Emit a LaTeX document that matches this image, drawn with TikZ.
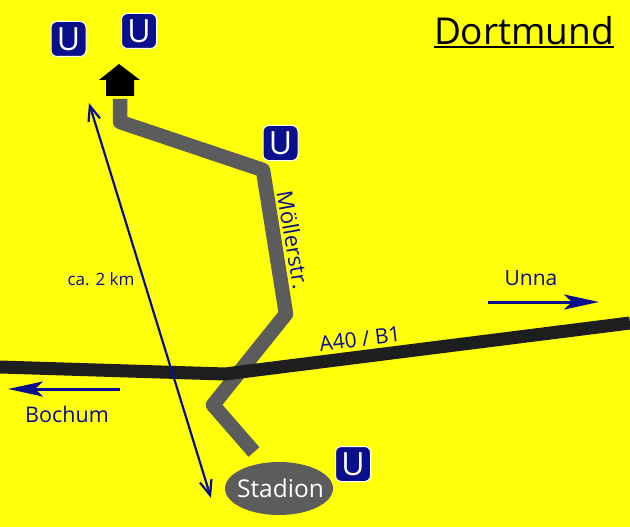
\documentclass[tikz,border=0pt]{standalone}
\usepackage{fontspec}
\setmainfont{Open Sans}
\usetikzlibrary{arrows.meta,shapes.geometric}
\definecolor{mapyellow}{RGB}{255,255,10}
\definecolor{mapblue}{RGB}{10,15,140}
\definecolor{roadgray}{RGB}{92,92,92}
\definecolor{roadblack}{RGB}{30,30,30}
\begin{document}
\begin{tikzpicture}[x=1pt,y=-1pt]
		\tikzstyle{ubahn}=[draw=white,fill=mapblue,text=white,line width=1pt,rounded corners=6pt,minimum size=35pt,inner sep=0pt,font=\fontsize{32}{32}\selectfont];
		\tikzstyle{label}=[text=mapblue,inner sep=0pt,font=\fontsize{21}{21}\selectfont];
		\tikzstyle{road}=[roadgray,line width=14.5pt,line join=round];
		\tikzstyle{highway}=[roadblack,line width=13pt,line join=round];
		\tikzstyle{dir}=[mapblue,line width=3pt,-{Stealth[length=35pt,width=15pt,inset=8pt]}];
		\useasboundingbox (0,0) rectangle (630,527);
		\fill[mapyellow] (0,0) rectangle (630,527);
		\coordinate (r0) at (120,99);
		\coordinate (r1) at (120,122);
		\coordinate (r2) at (263,170);
		\coordinate (r3) at (286,314);
		\coordinate (r4) at (213,405);
		\coordinate (r5) at (254,452);
		\coordinate (h0) at (0,367);
		\coordinate (h1) at (225,374);
		\coordinate (h2) at (630,323);
		\coordinate (d0) at (89,103);
		\coordinate (d1) at (211,498);
		\coordinate (unna0) at (488,302);
		\coordinate (unna1) at (599,302);
		\coordinate (boch0) at (120,389);
		\coordinate (boch1) at (8,389);
		\draw[road] (r0) -- (r1) -- (r2) -- (r3) -- (r4) -- (r5);
		\draw[highway] (h0) -- (h1) -- (h2);
		\draw[mapblue,line width=2.2pt,{Straight Barb[length=15pt,width=12pt]}-{Straight Barb[length=15pt,width=12pt]}] (d0) -- (d1);
		\draw[dir] (unna0) -- (unna1);
		\draw[dir] (boch0) -- (boch1);
		\fill[black] (119,64) -- (140,80) -- (134,80) -- (134,96) -- (106,96) -- (106,80) -- (99,80) -- cycle;
		\node[ubahn] (u0) at (68.5,39) {U};
		\node[ubahn] (u1) at (139,31) {U};
		\node[ubahn] (u2) at (280.5,143) {U};
		\node[ubahn] (u3) at (353,464) {U};
		\node[ellipse,fill=roadgray,text=white,minimum width=108pt,minimum height=53pt,inner sep=0pt,font=\fontsize{24.5}{24.5}\selectfont] (stadion) at (279,488.5) {\makebox[0pt]{\hspace{3pt}Stadion}};
		\node[text=black,inner sep=0pt,font=\fontsize{37}{37}\selectfont] (dortmund) at (524,31) {Dortmund};
		\draw[black,line width=1.5pt] (434,47) -- (614,47);
		\node[label] (unna) at (531,278) {Unna};
		\node[label,font=\fontsize{21.5}{21.5}\selectfont] (bochum) at (67,414) {Bochum};
		\node[label,rotate=7] (a40) at (360,339) {A40 / B1};
		\node[label,rotate=-80,font=\fontsize{22}{22}\selectfont] (moeller) at (293,240) {Möllerstr.};
		\node[label,font=\fontsize{17}{17}\selectfont] (dist) at (101,279) {ca. 2 km};
	\end{tikzpicture}
\end{document}
